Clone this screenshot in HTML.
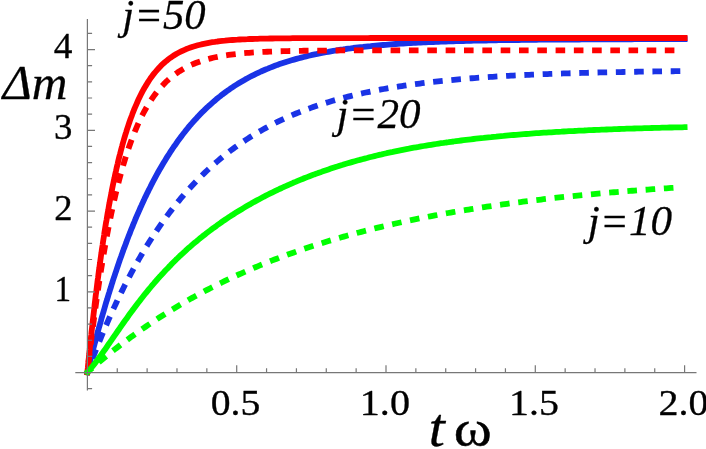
<!DOCTYPE html>
<html lang="en">
<head>
<meta charset="utf-8">
<title>Δm versus tω</title>
<style>
html,body{margin:0;padding:0;background:#fff}
svg{display:block}
text{font-family:"Liberation Serif",serif;font-size:40px;fill:#000;stroke:#000;stroke-width:.35px;stroke-linejoin:round}
.t{opacity:.999}
.i{font-style:italic;stroke-width:.25px}
.c{fill:none;stroke-width:5.80;stroke-linejoin:round}
</style>
</head>
<body>
<svg width="706" height="449" viewBox="0 0 706 449">
<rect width="706" height="449" fill="#fff"/>
<g class="c">
<path d="M86.7 375.1L87.4 372.3L88.0 369.9L88.6 367.4L89.2 365.0L89.8 362.5L90.4 360.1L91.0 357.7L91.7 355.2L92.3 352.8L92.9 350.4L93.5 347.9L94.2 345.5L94.8 343.1L95.5 340.6L96.1 338.2L96.8 335.8L97.4 333.4L98.1 330.9L98.7 328.5L99.4 326.1L100.1 323.7L100.8 321.2L101.4 318.8L102.1 316.4L102.8 314.0L103.5 311.6L104.2 309.2L104.9 306.8L105.6 304.3L106.3 301.9L107.1 299.5L107.8 297.1L108.5 294.7L109.3 292.3L110.0 289.9L110.8 287.5L111.5 285.1L112.3 282.7L113.0 280.3L113.8 277.9L114.6 275.6L115.4 273.2L116.2 270.8L117.0 268.4L117.8 266.0L118.6 263.6L119.4 261.3L120.2 258.9L121.1 256.5L121.9 254.2L122.8 251.8L123.6 249.4L124.5 247.1L125.4 244.7L126.3 242.4L127.1 240.0L128.0 237.7L128.9 235.3L129.9 233.0L130.8 230.6L131.7 228.3L132.7 226.0L133.6 223.6L134.6 221.3L135.5 219.0L136.5 216.7L137.5 214.4L138.5 212.1L139.5 209.8L140.5 207.5L141.6 205.2L142.6 202.9L143.7 200.6L144.7 198.3L145.8 196.1L146.9 193.8L148.0 191.6L149.1 189.3L150.3 187.1L151.4 184.8L152.5 182.6L153.7 180.4L154.9 178.1L156.1 175.9L157.3 173.7L158.5 171.5L159.8 169.3L161.0 167.2L162.3 165.0L163.6 162.8L164.9 160.7L166.2 158.5L167.5 156.4L168.9 154.3L170.2 152.2L171.6 150.1L173.0 148.0L174.4 145.9L175.9 143.9L177.3 141.8L178.8 139.8L180.3 137.8L181.8 135.7L183.3 133.8L184.9 131.8L186.4 129.8L188.0 127.9L189.6 125.9L191.3 124.0L192.9 122.1L194.6 120.2L196.3 118.4L198.0 116.6L199.7 114.7L201.5 112.9L203.3 111.2L205.1 109.4L206.9 107.7L208.7 106.0L210.6 104.3L212.5 102.6L214.4 101.0L216.3 99.3L218.2 97.7L220.2 96.2L222.2 94.6L224.2 93.1L226.2 91.6L228.3 90.2L230.3 88.7L232.4 87.3L234.5 85.9L236.6 84.6L238.7 83.3L240.9 82.0L243.1 80.7L245.3 79.4L247.5 78.2L249.7 77.0L251.9 75.9L254.1 74.8L256.4 73.7L258.7 72.6L261.0 71.5L263.3 70.5L265.6 69.5L267.9 68.6L270.2 67.6L272.6 66.7L274.9 65.8L277.3 64.9L279.6 64.1L282.0 63.3L284.4 62.5L286.8 61.7L289.2 61.0L291.6 60.3L294.0 59.6L296.4 58.9L298.9 58.2L301.3 57.6L303.7 57.0L306.2 56.4L308.6 55.8L311.1 55.2L313.5 54.7L316.0 54.2L318.4 53.6L320.9 53.1L323.4 52.7L325.8 52.2L328.3 51.8L330.8 51.3L333.3 50.9L335.7 50.5L338.2 50.1L340.7 49.7L343.2 49.4L345.7 49.0L348.2 48.7L350.7 48.4L353.2 48.0L355.6 47.7L358.1 47.4L360.6 47.1L363.1 46.9L365.6 46.6L368.1 46.3L370.6 46.1L373.1 45.8L375.6 45.6L378.1 45.4L380.6 45.2L383.1 45.0L385.7 44.8L388.2 44.6L390.7 44.4L393.2 44.2L395.7 44.0L398.2 43.8L400.7 43.7L403.2 43.5L405.7 43.4L408.2 43.2L410.7 43.1L413.2 42.9L415.7 42.8L418.3 42.7L420.8 42.5L423.3 42.4L425.8 42.3L428.3 42.2L430.8 42.1L433.3 42.0L435.8 41.9L438.3 41.8L440.9 41.7L443.4 41.6L445.9 41.5L448.4 41.4L450.9 41.3L453.4 41.3L455.9 41.2L458.4 41.1L460.9 41.1L463.5 41.0L466.0 40.9L468.5 40.9L471.0 40.8L473.5 40.7L476.0 40.7L478.5 40.6L481.0 40.6L483.6 40.5L486.1 40.5L488.6 40.4L491.1 40.4L493.6 40.3L496.1 40.3L498.6 40.2L501.1 40.2L503.7 40.2L506.2 40.1L508.7 40.1L511.2 40.1L513.7 40.0L516.2 40.0L518.7 40.0L521.3 39.9L523.8 39.9L526.3 39.9L528.8 39.8L531.3 39.8L533.8 39.8L536.3 39.8L538.8 39.7L541.4 39.7L543.9 39.7L546.4 39.7L548.9 39.6L551.4 39.6L553.9 39.6L556.4 39.6L558.9 39.6L561.5 39.6L564.0 39.5L566.5 39.5L569.0 39.5L571.5 39.5L574.0 39.5L576.5 39.5L579.1 39.5L581.6 39.4L584.1 39.4L586.6 39.4L589.1 39.4L591.6 39.4L594.1 39.4L596.6 39.4L599.2 39.4L601.7 39.3L604.2 39.3L606.7 39.3L609.2 39.3L611.7 39.3L614.2 39.3L616.7 39.3L619.3 39.3L621.8 39.3L624.3 39.3L626.8 39.3L629.3 39.3L631.8 39.3L634.3 39.2L636.9 39.2L639.4 39.2L641.9 39.2L644.4 39.2L646.9 39.2L649.4 39.2L651.9 39.2L654.4 39.2L657.0 39.2L659.5 39.2L662.0 39.2L664.5 39.2L667.0 39.2L669.5 39.2L672.0 39.2L674.5 39.2L677.1 39.2L679.6 39.2L682.1 39.2L684.6 39.2L687.5 39.2" stroke="#1a33e6"/>
<path d="M87.40 372.30L88.12 370.35L88.85 368.40L89.57 366.45M92.61 358.46L93.48 356.22L94.35 353.98L95.22 351.75L96.11 349.51M99.30 341.58L100.21 339.35L101.12 337.14L102.04 334.92L102.97 332.71M106.14 325.26L107.09 323.06L108.06 320.86L109.02 318.67L110.00 316.47M113.35 309.07L114.36 306.89L115.37 304.71L116.39 302.54L117.42 300.37M120.98 293.02L122.04 290.87L123.11 288.72L124.19 286.57L125.27 284.43M129.05 277.15L130.17 275.03L131.30 272.91L132.44 270.80L133.59 268.69M137.61 261.50L138.80 259.41L140.00 257.33L141.21 255.26L142.43 253.19M146.71 246.11L147.98 244.07L149.25 242.04L150.54 240.01L151.83 237.99M156.40 231.05L157.74 229.06L159.10 227.08L160.47 225.11L161.84 223.14M166.72 216.38L168.15 214.45L169.59 212.53L171.05 210.62L172.51 208.72M177.72 202.17L179.24 200.31L180.78 198.47L182.32 196.63L183.88 194.81M189.44 188.51L191.06 186.74L192.69 184.98L194.34 183.23L195.99 181.49M201.92 175.49L203.63 173.82L205.36 172.15L207.10 170.50L208.86 168.87M215.15 163.22L216.97 161.65L218.79 160.09L220.63 158.55L222.49 157.03M229.14 151.77L231.05 150.31L232.97 148.88L234.91 147.46L236.86 146.06M243.85 141.22L245.85 139.89L247.86 138.59L249.88 137.29L251.92 136.02M259.23 131.63L261.31 130.44L263.40 129.26L265.50 128.10L267.61 126.95M275.20 123.02L277.35 121.96L279.51 120.91L281.68 119.88L283.86 118.87M291.69 115.39L293.90 114.45L296.11 113.53L298.34 112.63L300.57 111.74M308.59 108.69L310.85 107.88L313.11 107.08L315.38 106.29L317.65 105.52M325.84 102.88L328.13 102.17L330.43 101.48L332.73 100.80L335.04 100.14M343.35 97.86L345.68 97.25L348.00 96.66L350.33 96.08L352.66 95.51M361.07 93.56L363.42 93.04L365.76 92.53L368.11 92.04L370.46 91.55M378.95 89.89L381.31 89.45L383.67 89.02L386.03 88.60L388.39 88.19M396.94 86.77L399.31 86.40L401.68 86.04L404.05 85.68L406.43 85.33M415.02 84.13L417.39 83.82L419.77 83.51L422.16 83.21L424.54 82.91M433.16 81.90L435.54 81.64L437.93 81.38L440.32 81.12L442.70 80.87M451.35 80.02L453.74 79.79L456.13 79.58L458.52 79.36L460.91 79.15M469.57 78.43L471.97 78.24L474.36 78.06L476.75 77.88L479.15 77.70M487.82 77.09L490.22 76.93L492.61 76.78L495.01 76.63L497.40 76.48M506.09 75.97L508.49 75.83L510.89 75.70L513.28 75.57L515.68 75.45M524.37 75.02L526.77 74.91L529.17 74.80L531.57 74.69L533.97 74.59M542.67 74.22L545.06 74.13L547.46 74.04L549.86 73.95L552.26 73.86M560.96 73.55L563.36 73.47L565.76 73.40L568.16 73.32L570.56 73.25M579.26 72.99L581.66 72.92L584.06 72.86L586.46 72.80L588.86 72.73M597.56 72.52L599.96 72.46L602.36 72.41L604.76 72.35L607.15 72.30M615.85 72.12L618.25 72.07L620.65 72.03L623.05 71.98L625.45 71.94M634.15 71.79L636.55 71.75L638.94 71.71L641.34 71.67L643.74 71.63M652.43 71.51L654.83 71.47L657.23 71.44L659.63 71.41L662.03 71.38M670.71 71.27L673.11 71.24L675.51 71.22L677.91 71.19L680.31 71.16" stroke="#1a33e6"/>
<path d="M87.1 375.2L87.4 372.3L87.6 369.8L87.9 367.3L88.1 364.8L88.4 362.3L88.6 359.8L88.9 357.3L89.2 354.8L89.4 352.3L89.7 349.8L89.9 347.3L90.2 344.8L90.5 342.3L90.7 339.8L91.0 337.3L91.3 334.8L91.5 332.3L91.8 329.8L92.1 327.3L92.4 324.8L92.6 322.3L92.9 319.8L93.2 317.3L93.5 314.8L93.8 312.3L94.1 309.8L94.4 307.3L94.6 304.9L94.9 302.4L95.2 299.9L95.5 297.4L95.8 294.9L96.2 292.4L96.5 289.9L96.8 287.4L97.1 284.9L97.4 282.4L97.7 279.9L98.1 277.4L98.4 274.9L98.7 272.4L99.0 270.0L99.4 267.5L99.7 265.0L100.1 262.5L100.4 260.0L100.8 257.5L101.1 255.0L101.5 252.5L101.8 250.0L102.2 247.6L102.6 245.1L102.9 242.6L103.3 240.1L103.7 237.6L104.1 235.1L104.4 232.7L104.8 230.2L105.2 227.7L105.6 225.2L106.0 222.7L106.5 220.3L106.9 217.8L107.3 215.3L107.7 212.8L108.2 210.4L108.6 207.9L109.0 205.4L109.5 202.9L109.9 200.5L110.4 198.0L110.9 195.5L111.4 193.1L111.8 190.6L112.3 188.1L112.8 185.7L113.3 183.2L113.8 180.7L114.4 178.3L114.9 175.8L115.4 173.4L116.0 170.9L116.5 168.5L117.1 166.0L117.7 163.6L118.2 161.1L118.8 158.7L119.4 156.3L120.1 153.8L120.7 151.4L121.3 149.0L122.0 146.5L122.6 144.1L123.3 141.7L124.0 139.3L124.7 136.9L125.4 134.5L126.2 132.1L126.9 129.7L127.7 127.3L128.5 124.9L129.3 122.5L130.1 120.1L131.0 117.8L131.9 115.4L132.7 113.1L133.7 110.7L134.6 108.4L135.6 106.1L136.6 103.8L137.6 101.5L138.6 99.2L139.7 96.9L140.8 94.7L142.0 92.4L143.2 90.2L144.4 88.0L145.7 85.9L147.0 83.7L148.3 81.6L149.7 79.5L151.1 77.4L152.6 75.4L154.2 73.4L155.8 71.5L157.4 69.6L159.1 67.7L160.8 65.9L162.6 64.2L164.5 62.5L166.4 60.9L168.4 59.3L170.4 57.8L172.5 56.4L174.6 55.0L176.7 53.7L179.0 52.5L181.2 51.4L183.5 50.3L185.8 49.3L188.1 48.4L190.5 47.5L192.8 46.7L195.3 46.0L197.7 45.3L200.1 44.7L202.5 44.1L205.0 43.6L207.5 43.1L209.9 42.6L212.4 42.2L214.9 41.9L217.4 41.5L219.9 41.2L222.4 40.9L224.9 40.7L227.4 40.4L229.9 40.2L232.4 40.0L234.9 39.8L237.4 39.7L239.9 39.5L242.4 39.4L244.9 39.3L247.4 39.2L250.0 39.0L252.5 39.0L255.0 38.9L257.5 38.8L260.0 38.7L262.5 38.7L265.0 38.6L267.5 38.6L270.0 38.5L272.6 38.5L275.1 38.4L277.6 38.4L280.1 38.4L282.6 38.3L285.1 38.3L287.6 38.3L290.1 38.3L292.7 38.2L295.2 38.2L297.7 38.2L300.2 38.2L302.7 38.2L305.2 38.2L307.7 38.1L310.2 38.1L312.8 38.1L315.3 38.1L317.8 38.1L320.3 38.1L322.8 38.1L325.3 38.1L327.8 38.1L330.3 38.1L332.9 38.1L335.4 38.1L337.9 38.1L340.4 38.1L342.9 38.1L345.4 38.1L347.9 38.1L350.4 38.1L353.0 38.1L355.5 38.1L358.0 38.1L360.5 38.1L363.0 38.1L365.5 38.1L368.0 38.1L370.5 38.0L373.1 38.0L375.6 38.0L378.1 38.0L380.6 38.0L383.1 38.0L385.6 38.0L388.1 38.0L390.6 38.0L393.2 38.0L395.7 38.0L398.2 38.0L400.7 38.0L403.2 38.0L405.7 38.0L408.2 38.0L410.7 38.0L413.3 38.0L415.8 38.0L418.3 38.0L420.8 38.0L423.3 38.0L425.8 38.0L428.3 38.0L430.8 38.0L433.4 38.0L435.9 38.0L438.4 38.0L440.9 38.0L443.4 38.0L445.9 38.0L448.4 38.0L450.9 38.0L453.5 38.0L456.0 38.0L458.5 38.0L461.0 38.0L463.5 38.0L466.0 38.0L468.5 38.0L471.0 38.0L473.6 38.0L476.1 38.0L478.6 38.0L481.1 38.0L483.6 38.0L486.1 38.0L488.6 38.0L491.1 38.0L493.7 38.0L496.2 38.0L498.7 38.0L501.2 38.0L503.7 38.0L506.2 38.0L508.7 38.0L511.2 38.0L513.8 38.0L516.3 38.0L518.8 38.0L521.3 38.0L523.8 38.0L526.3 38.0L528.8 38.0L531.3 38.0L533.9 38.0L536.4 38.0L538.9 38.0L541.4 38.0L543.9 38.0L546.4 38.0L548.9 38.0L551.4 38.0L554.0 38.0L556.5 38.0L559.0 38.0L561.5 38.0L564.0 38.0L566.5 38.0L569.0 38.0L571.5 38.0L574.1 38.0L576.6 38.0L579.1 38.0L581.6 38.0L584.1 38.0L586.6 38.0L589.1 38.0L591.6 38.0L594.2 38.0L596.7 38.0L599.2 38.0L601.7 38.0L604.2 38.0L606.7 38.0L609.2 38.0L611.7 38.0L614.3 38.0L616.8 38.0L619.3 38.0L621.8 38.0L624.3 38.0L626.8 38.0L629.3 38.0L631.8 38.0L634.4 38.0L636.9 38.0L639.4 38.0L641.9 38.0L644.4 38.0L646.9 38.0L649.4 38.0L651.9 38.0L654.5 38.0L657.0 38.0L659.5 38.0L662.0 38.0L664.5 38.0L667.0 38.0L669.5 38.0L672.0 38.0L674.6 38.0L677.1 38.0L679.6 38.0L682.1 38.0L684.6 38.0L687.5 38.0" stroke="#ff0000"/>
<path d="M88.50 362.76L88.78 360.37L89.06 357.99L89.34 355.61L89.63 353.22M90.67 344.64L90.96 342.26L91.25 339.88L91.55 337.50L91.85 335.12M92.95 326.54L93.26 324.16L93.57 321.78L93.89 319.40L94.20 317.02M95.37 308.46L95.69 306.08L96.03 303.70L96.36 301.33L96.70 298.95M97.93 290.39L98.28 288.02L98.64 285.65L98.99 283.27L99.35 280.90M100.68 272.36L101.05 269.99L101.43 267.62L101.82 265.25L102.20 262.88M103.63 254.35L104.03 251.99L104.44 249.62L104.86 247.26L105.27 244.89M106.82 236.39L107.26 234.03L107.71 231.67L108.16 229.31L108.61 226.96M110.30 218.48L110.78 216.13L111.27 213.78L111.77 211.43L112.27 209.08M114.13 200.64L114.67 198.30L115.21 195.96L115.76 193.63L116.32 191.29M118.40 182.90L119.00 180.58L119.61 178.26L120.22 175.94L120.85 173.62M123.07 165.75L123.75 163.45L124.44 161.15L125.14 158.86L125.86 156.57M128.42 148.75L129.20 146.48L130.00 144.21L130.81 141.96L131.64 139.70M134.65 131.99L135.57 129.77L136.51 127.56L137.47 125.36L138.45 123.17M142.06 115.66L143.16 113.53L144.28 111.41L145.44 109.30L146.63 107.22M151.04 100.10L152.39 98.11L153.77 96.14L155.19 94.21L156.65 92.30M162.10 85.88L163.75 84.14L165.44 82.44L167.17 80.78L168.95 79.17M175.57 73.89L177.53 72.51L179.54 71.19L181.58 69.93L183.65 68.72M191.25 64.90L193.45 63.95L195.68 63.05L197.92 62.20L200.19 61.40M208.36 58.94L210.69 58.35L213.02 57.79L215.37 57.27L217.72 56.79M226.16 55.31L228.54 54.96L230.91 54.63L233.29 54.32L235.68 54.04M244.24 53.18L246.63 52.98L249.02 52.79L251.42 52.61L253.81 52.45M262.43 51.95L264.83 51.83L267.23 51.73L269.62 51.63L272.02 51.53M280.68 51.25L283.07 51.18L285.47 51.12L287.87 51.06L290.27 51.01M298.95 50.85L301.35 50.81L303.75 50.77L306.15 50.74L308.55 50.71M317.25 50.62L319.65 50.60L322.05 50.58L324.45 50.56L326.85 50.54M335.56 50.49L337.96 50.48L340.36 50.46L342.76 50.45L345.16 50.44M353.89 50.41L356.29 50.41L358.69 50.40L361.09 50.39L363.49 50.39M372.23 50.37L374.63 50.37L377.03 50.36L379.43 50.36L381.83 50.36M390.58 50.35L392.98 50.34L395.38 50.34L397.78 50.34L400.18 50.34M408.93 50.33L411.33 50.33L413.73 50.33L416.13 50.33L418.53 50.33M427.29 50.33L429.69 50.32L432.09 50.32L434.49 50.32L436.89 50.32M445.64 50.32L448.04 50.32L450.44 50.32L452.84 50.32L455.24 50.32M463.99 50.32L466.39 50.32L468.79 50.32L471.19 50.32L473.59 50.32M482.34 50.32L484.74 50.32L487.14 50.32L489.54 50.32L491.94 50.32M500.67 50.32L503.07 50.32L505.47 50.32L507.87 50.32L510.27 50.32M519.00 50.32L521.40 50.32L523.80 50.32L526.20 50.32L528.60 50.32M537.30 50.32L539.70 50.32L542.10 50.32L544.50 50.32L546.90 50.32M555.59 50.32L557.99 50.32L560.39 50.32L562.79 50.32L565.19 50.32M573.86 50.32L576.26 50.32L578.66 50.32L581.06 50.32L583.46 50.32M592.11 50.32L594.51 50.32L596.91 50.32L599.31 50.32L601.71 50.32M610.33 50.32L612.73 50.32L615.13 50.32L617.53 50.32L619.93 50.32M628.52 50.32L630.92 50.32L633.32 50.32L635.72 50.32L638.12 50.32M646.68 50.32L649.08 50.32L651.48 50.32L653.88 50.32L656.28 50.32M664.81 50.32L667.21 50.32L669.61 50.32L672.01 50.32L674.41 50.32" stroke="#ff0000"/>
<path d="M85.5 374.4L87.4 372.3L89.1 370.4L90.7 368.5L92.3 366.6L93.9 364.6L95.5 362.6L97.0 360.6L98.5 358.6L100.0 356.6L101.4 354.5L102.9 352.5L104.3 350.4L105.8 348.4L107.2 346.3L108.6 344.2L110.1 342.1L111.5 340.1L112.9 338.0L114.4 335.9L115.8 333.9L117.2 331.8L118.7 329.7L120.1 327.7L121.5 325.6L123.0 323.5L124.4 321.5L125.9 319.4L127.4 317.4L128.8 315.3L130.3 313.3L131.8 311.3L133.3 309.2L134.8 307.2L136.3 305.2L137.8 303.2L139.4 301.2L140.9 299.2L142.5 297.2L144.0 295.3L145.6 293.3L147.2 291.4L148.8 289.4L150.4 287.5L152.0 285.5L153.7 283.6L155.3 281.7L157.0 279.8L158.6 277.9L160.3 276.1L162.0 274.2L163.7 272.4L165.4 270.5L167.2 268.7L168.9 266.9L170.7 265.1L172.4 263.3L174.2 261.5L176.0 259.7L177.8 258.0L179.6 256.2L181.5 254.5L183.3 252.8L185.2 251.1L187.0 249.4L188.9 247.7L190.8 246.1L192.7 244.4L194.6 242.8L196.6 241.2L198.5 239.6L200.4 238.0L202.4 236.4L204.4 234.9L206.4 233.3L208.4 231.8L210.4 230.3L212.4 228.7L214.4 227.3L216.5 225.8L218.5 224.3L220.6 222.9L222.6 221.4L224.7 220.0L226.8 218.6L228.9 217.2L231.0 215.8L233.1 214.5L235.2 213.1L237.4 211.8L239.5 210.5L241.7 209.2L243.8 207.9L246.0 206.6L248.2 205.3L250.4 204.1L252.5 202.8L254.7 201.6L256.9 200.4L259.2 199.2L261.4 198.0L263.6 196.8L265.8 195.7L268.1 194.5L270.3 193.4L272.6 192.3L274.9 191.2L277.1 190.1L279.4 189.0L281.7 188.0L284.0 186.9L286.3 185.9L288.6 184.8L290.9 183.8L293.2 182.8L295.5 181.9L297.8 180.9L300.2 179.9L302.5 179.0L304.8 178.0L307.2 177.1L309.5 176.2L311.9 175.3L314.2 174.4L316.6 173.6L318.9 172.7L321.3 171.9L323.7 171.0L326.1 170.2L328.5 169.4L330.8 168.6L333.2 167.8L335.6 167.0L338.0 166.3L340.4 165.5L342.8 164.8L345.2 164.0L347.7 163.3L350.1 162.6L352.5 161.9L354.9 161.2L357.3 160.5L359.8 159.9L362.2 159.2L364.6 158.6L367.1 158.0L369.5 157.3L371.9 156.7L374.4 156.1L376.8 155.5L379.3 154.9L381.7 154.4L384.2 153.8L386.6 153.2L389.1 152.7L391.6 152.2L394.0 151.6L396.5 151.1L399.0 150.6L401.4 150.1L403.9 149.6L406.4 149.1L408.8 148.7L411.3 148.2L413.8 147.7L416.3 147.3L418.7 146.9L421.2 146.4L423.7 146.0L426.2 145.6L428.7 145.2L431.2 144.8L433.6 144.4L436.1 144.0L438.6 143.6L441.1 143.2L443.6 142.9L446.1 142.5L448.6 142.2L451.1 141.8L453.6 141.5L456.1 141.1L458.6 140.8L461.1 140.5L463.6 140.2L466.0 139.9L468.5 139.6L471.0 139.3L473.5 139.0L476.0 138.7L478.6 138.4L481.1 138.1L483.6 137.9L486.1 137.6L488.6 137.3L491.1 137.1L493.6 136.8L496.1 136.6L498.6 136.3L501.1 136.1L503.6 135.9L506.1 135.6L508.6 135.4L511.1 135.2L513.6 135.0L516.1 134.8L518.6 134.6L521.2 134.4L523.7 134.2L526.2 134.0L528.7 133.8L531.2 133.6L533.7 133.4L536.2 133.2L538.7 133.1L541.2 132.9L543.8 132.7L546.3 132.6L548.8 132.4L551.3 132.3L553.8 132.1L556.3 131.9L558.8 131.8L561.3 131.7L563.9 131.5L566.4 131.4L568.9 131.2L571.4 131.1L573.9 131.0L576.4 130.8L578.9 130.7L581.4 130.6L584.0 130.5L586.5 130.3L589.0 130.2L591.5 130.1L594.0 130.0L596.5 129.9L599.1 129.8L601.6 129.7L604.1 129.6L606.6 129.5L609.1 129.4L611.6 129.3L614.1 129.2L616.7 129.1L619.2 129.0L621.7 128.9L624.2 128.8L626.7 128.7L629.2 128.7L631.8 128.6L634.3 128.5L636.8 128.4L639.3 128.3L641.8 128.3L644.3 128.2L646.9 128.1L649.4 128.1L651.9 128.0L654.4 127.9L656.9 127.8L659.4 127.8L662.0 127.7L664.5 127.7L667.0 127.6L669.5 127.5L672.0 127.5L674.5 127.4L677.0 127.4L679.6 127.3L682.1 127.3L684.6 127.2L687.5 127.1" stroke="#00ff00"/>
<path d="M87.40 372.30L89.03 370.86L90.66 369.42L92.30 367.99M98.85 362.37L100.69 360.83L102.53 359.29L104.38 357.76L106.23 356.24M112.96 350.82L114.84 349.34L116.73 347.86L118.63 346.38L120.53 344.92M127.30 339.81L129.23 338.38L131.16 336.96L133.10 335.54L135.05 334.14M141.99 329.23L143.96 327.86L145.94 326.50L147.92 325.15L149.91 323.81M157.01 319.11L159.02 317.80L161.04 316.50L163.07 315.21L165.10 313.93M172.35 309.45L174.41 308.20L176.46 306.97L178.53 305.74L180.59 304.52M188.00 300.26L190.09 299.08L192.18 297.90L194.28 296.74L196.38 295.59M203.92 291.54L206.05 290.42L208.18 289.31L210.31 288.21L212.45 287.12M220.11 283.29L222.27 282.23L224.43 281.18L226.59 280.15L228.76 279.12M236.55 275.50L238.73 274.51L240.92 273.52L243.11 272.55L245.31 271.58M253.20 268.17L255.41 267.24L257.63 266.31L259.84 265.40L262.06 264.49M270.05 261.29L272.29 260.42L274.53 259.55L276.77 258.69L279.01 257.84M287.09 254.84L289.35 254.02L291.61 253.21L293.87 252.41L296.13 251.61M304.29 248.81L306.57 248.05L308.84 247.29L311.12 246.54L313.41 245.80M321.64 243.18L323.93 242.47L326.22 241.76L328.52 241.06L330.82 240.37M339.11 237.93L341.41 237.27L343.72 236.61L346.03 235.96L348.35 235.32M356.69 233.05L359.01 232.43L361.34 231.82L363.66 231.22L365.98 230.62M374.38 228.51L376.71 227.94L379.04 227.37L381.38 226.81L383.71 226.26M392.15 224.30L394.49 223.77L396.84 223.24L399.18 222.72L401.52 222.21M410.00 220.39L412.35 219.90L414.70 219.41L417.05 218.93L419.40 218.45M427.92 216.77L430.27 216.31L432.63 215.86L434.99 215.42L437.35 214.98M445.89 213.42L448.25 212.99L450.61 212.58L452.98 212.16L455.34 211.76M463.91 210.31L466.28 209.92L468.64 209.54L471.01 209.16L473.38 208.78M481.97 207.44L484.34 207.08L486.72 206.73L489.09 206.38L491.47 206.03M500.07 204.79L502.45 204.46L504.82 204.13L507.20 203.81L509.58 203.48M518.20 202.34L520.58 202.04L522.96 201.73L525.34 201.43L527.72 201.13M536.35 200.08L538.74 199.80L541.12 199.52L543.50 199.24L545.89 198.97M554.53 197.99L556.92 197.73L559.30 197.47L561.69 197.22L564.07 196.96M572.72 196.07L575.11 195.83L577.50 195.59L579.89 195.35L582.28 195.12M590.93 194.29L593.32 194.07L595.71 193.85L598.10 193.63L600.49 193.41M609.16 192.65L611.55 192.44L613.94 192.24L616.33 192.04L618.72 191.84M627.39 191.14L629.78 190.95L632.17 190.76L634.56 190.57L636.96 190.39M645.62 189.74L648.02 189.57L650.41 189.39L652.80 189.22L655.20 189.05M663.87 188.46L666.26 188.30L668.66 188.14L671.05 187.98L673.45 187.82" stroke="#00ff00"/>
</g>
<path d="M75.3 372.55H696.5M87.40 19.1V390.5M117.26 372.55v-4.3M147.12 372.55v-4.3M176.98 372.55v-4.3M206.84 372.55v-4.3M236.70 372.55v-7.3M266.56 372.55v-4.3M296.42 372.55v-4.3M326.28 372.55v-4.3M356.14 372.55v-4.3M386.00 372.55v-7.3M415.86 372.55v-4.3M445.72 372.55v-4.3M475.58 372.55v-4.3M505.44 372.55v-4.3M535.30 372.55v-7.3M565.16 372.55v-4.3M595.02 372.55v-4.3M624.88 372.55v-4.3M654.74 372.55v-4.3M684.60 372.55v-7.3M87.40 388.70h4.7M87.40 356.40h4.7M87.40 340.25h4.7M87.40 324.10h4.7M87.40 307.95h4.7M87.40 291.80h7.6M87.40 275.65h4.7M87.40 259.50h4.7M87.40 243.35h4.7M87.40 227.20h4.7M87.40 211.05h7.6M87.40 194.90h4.7M87.40 178.75h4.7M87.40 162.60h4.7M87.40 146.45h4.7M87.40 130.30h7.6M87.40 114.15h4.7M87.40 98.00h4.7M87.40 81.85h4.7M87.40 65.70h4.7M87.40 49.55h7.6M87.40 33.40h4.7" fill="none" stroke="#777" stroke-width="1.2"/>
<g class="t">
<text class="n" transform="matrix(0.9333 0 0 0.8718 53.76 58.45)">4</text>
<text class="n" transform="matrix(0.9220 0 0 0.8879 54.10 139.20)">3</text>
<text class="n" transform="matrix(0.9150 0 0 0.8879 54.14 219.95)">2</text>
<text class="n" transform="matrix(0.8286 0 0 0.8947 54.41 300.70)">1</text>
<text class="n" transform="matrix(0.9915 0 0 0.9030 210.75 415.40)">0.5</text>
<text class="n" transform="matrix(1.0036 0 0 0.9030 359.79 415.40)">1.0</text>
<text class="n" transform="matrix(0.9964 0 0 0.9030 509.11 415.40)">1.5</text>
<text class="n" transform="matrix(0.9991 0 0 0.9030 658.60 415.40)">2.0</text>
<text class="i" transform="matrix(1.0672 0 0 1.0606 122.28 29.30)">j=50</text>
<text class="i" transform="matrix(1.0770 0 0 1.0606 336.42 127.70)">j=20</text>
<text class="i" transform="matrix(1.0782 0 0 1.0682 587.83 235.00)">j=10</text>
<text class="i" transform="matrix(1.2365 0 0 1.2176 2.83 99.20)">Δm</text>
<text class="i" transform="matrix(1.4500 0 0 1.3661 428.79 446.20)">t</text>
<text class="n" transform="matrix(1.4440 0 0 1.2796 453.79 446.20)">ω</text>
</g>
</svg>
</body>
</html>
